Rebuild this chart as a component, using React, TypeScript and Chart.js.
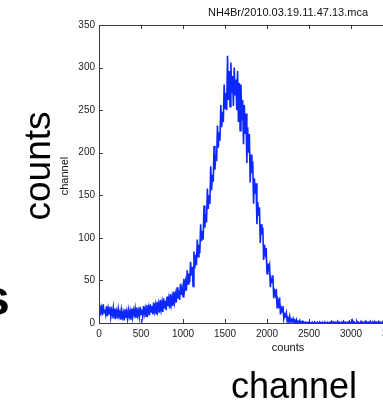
import React, { useEffect, useRef } from "react";
import { Chart, registerables } from "chart.js";

Chart.register(...registerables);

// MCA spectrum: one count value every `channelStep` channels
const channelStep = 10;
const counts = [
  // 0 - 190
  10, 21, 13, 18, 9, 22, 12, 16, 10, 20, 8, 17, 11, 19, 7, 15, 10, 18, 6, 17,
  // 200 - 390
  9, 14, 5, 16, 8, 13, 4, 15, 7, 12, 3, 16, 6, 13, 5, 15, 8, 14, 4, 17,
  // 400 - 590
  7, 15, 10, 17, 6, 18, 9, 14, 7, 19, 10, 16, 8, 20, 11, 17, 8, 21, 12, 18,
  // 600 - 790
  9, 22, 13, 20, 10, 24, 14, 21, 11, 25, 15, 22, 12, 27, 16, 24, 13, 29, 17, 26,
  // 800 - 990
  15, 31, 20, 28, 17, 34, 22, 30, 20, 37, 25, 33, 24, 42, 29, 38, 27, 46, 33, 41,
  // 1000 - 1190
  31, 52, 40, 48, 38, 62, 46, 58, 48, 72, 56, 66, 43, 84, 64, 80, 68, 98, 78, 92,
  // 1200 - 1390
  82, 116, 96, 108, 98, 138, 112, 128, 118, 158, 134, 150, 140, 184, 156, 174, 166, 208, 180, 198,
  // 1400 - 1590
  190, 232, 206, 224, 214, 256, 230, 248, 236, 280, 252, 270, 250, 314, 262, 296, 254, 306, 270, 290,
  // 1600 - 1790
  255, 300, 268, 286, 250, 296, 236, 282, 226, 280, 238, 262, 210, 256, 222, 246, 188, 230, 200, 222,
  // 1800 - 1990
  165, 198, 176, 190, 140, 170, 152, 164, 116, 142, 126, 136, 94, 116, 104, 112, 74, 92, 82, 88,
  // 2000 - 2190
  58, 70, 64, 68, 42, 52, 48, 56, 29, 37, 33, 40, 18, 26, 22, 30, 10, 17, 13, 20,
  // 2200 - 2390
  5, 10, 8, 12, 2, 6, 4, 8, 0, 4, 2, 5, 0, 3, 1, 4, 0, 2, 1, 3,
  // 2400 - 2590
  0, 1, 2, 0, 1, 0, 1, 0, 0, 1, 0, 1, 0, 0, 1, 0, 0, 1, 0, 0,
  // 2600 - 2790
  1, 0, 0, 1, 0, 0, 1, 0, 0, 1, 0, 0, 1, 0, 0, 1, 0, 2, 0, 1,
  // 2800 - 2990
  0, 1, 0, 0, 2, 0, 1, 0, 0, 1, 0, 2, 0, 1, 0, 0, 1, 0, 2, 0,
  // 3000 - 3190
  1, 0, 3, 0, 1, 0, 0, 2, 0, 1, 0, 0, 2, 0, 1, 0, 0, 2, 0, 1,
  // 3200 - 3390
  0, 1, 0, 2, 0, 0, 1, 0, 2, 0, 1, 0, 0, 2, 0, 1, 0, 0, 1, 0,
  // 3400 - 3590
  1, 0, 0, 1, 0, 1, 0, 0, 1, 0, 1, 0, 0, 1, 0, 1, 0, 0, 1, 0,
];

const plotTitle = "NH4Br/2010.03.19.11.47.13.mca";
const xAxisTitle = "counts";
const yAxisTitle = "channel";
const bigLeftLabel = "counts";
const bigBottomLabel = "channel";
const edgeLetter = "s";

const xMin = 0;
const xMax = 4500;
const xStep = 500;
const yMin = 0;
const yMax = 350;
const yStep = 50;

const FONT = "'Liberation Sans', Arial, Helvetica, sans-serif";

const framePlugin = {
  id: "frameAndLabels",
  afterDraw(chart: any) {
    const { ctx, chartArea: a, scales } = chart;
    ctx.save();
    // boxed axes
    ctx.strokeStyle = "#3c3c3c";
    ctx.lineWidth = 1;
    ctx.strokeRect(a.left + 0.5, a.top + 0.5, a.right - a.left - 1, a.bottom - a.top);
    // inward tick marks on all four sides
    ctx.beginPath();
    scales.x.ticks.forEach((t: any) => {
      const px = Math.round(scales.x.getPixelForValue(t.value)) + 0.5;
      ctx.moveTo(px, a.bottom);
      ctx.lineTo(px, a.bottom - 4);
      ctx.moveTo(px, a.top);
      ctx.lineTo(px, a.top + 4);
    });
    scales.y.ticks.forEach((t: any) => {
      const py = Math.round(scales.y.getPixelForValue(t.value)) + 0.5;
      ctx.moveTo(a.left, py);
      ctx.lineTo(a.left + 4, py);
      ctx.moveTo(a.right, py);
      ctx.lineTo(a.right - 4, py);
    });
    ctx.stroke();

    const cx = (a.left + a.right) / 2;
    const cy = (a.top + a.bottom) / 2;
    ctx.fillStyle = "#111";
    ctx.textAlign = "center";
    ctx.textBaseline = "alphabetic";
    ctx.font = `11px ${FONT}`;
    ctx.fillText(plotTitle, cx, 16);
    ctx.fillText(xAxisTitle, cx, 351);
    ctx.save();
    ctx.translate(68, cy + 2);
    ctx.rotate(-Math.PI / 2);
    ctx.fillText(yAxisTitle, 0, 0);
    ctx.restore();

    // large annotation words
    ctx.fillStyle = "#000";
    ctx.font = `37px ${FONT}`;
    ctx.save();
    ctx.translate(50, 166);
    ctx.rotate(-Math.PI / 2);
    ctx.fillText(bigLeftLabel, 0, 0);
    ctx.restore();
    ctx.textAlign = "left";
    ctx.font = `36px ${FONT}`;
    ctx.fillText(bigBottomLabel, 231, 398);
    ctx.font = `bold 50px ${FONT}`;
    ctx.fillText(edgeLetter, -18, 315);
    ctx.restore();
  },
};

export default function App() {
  const canvasRef = useRef<HTMLCanvasElement | null>(null);

  useEffect(() => {
    const canvas = canvasRef.current;
    if (!canvas) return;
    const points = counts.map((c, i) => ({ x: i * channelStep, y: c }));
    const chart = new Chart(canvas, {
      type: "line",
      data: {
        datasets: [
          {
            data: points,
            borderColor: "rgb(12,40,255)",
            borderWidth: 1.6,
            pointRadius: 0,
            tension: 0,
            fill: false,
          },
        ],
      },
      options: {
        animation: false,
        responsive: false,
        devicePixelRatio: 1,
        events: [],
        layout: { padding: { top: 25, right: 83, left: 0, bottom: 0 } },
        plugins: {
          legend: { display: false },
          tooltip: { enabled: false },
          title: { display: false },
        },
        scales: {
          x: {
            type: "linear",
            min: xMin,
            max: xMax,
            grid: { display: false, drawTicks: false },
            border: { display: false },
            ticks: {
              stepSize: xStep,
              autoSkip: false,
              maxRotation: 0,
              padding: 5,
              color: "#222",
              font: { size: 10, family: FONT },
              callback: (v: any) => String(v),
            },
            afterFit(scale: any) {
              scale.height = 79;
            },
          },
          y: {
            type: "linear",
            min: yMin,
            max: yMax,
            grid: { display: false, drawTicks: false },
            border: { display: false },
            ticks: {
              stepSize: yStep,
              padding: 4,
              color: "#222",
              font: { size: 10, family: FONT },
              callback: (v: any) => String(v),
            },
            afterFit(scale: any) {
              scale.width = 99;
            },
          },
        },
      },
      plugins: [framePlugin],
    });
    return () => chart.destroy();
  }, []);

  return (
    <div
      style={{
        position: "fixed",
        left: 0,
        top: 0,
        width: 383,
        height: 402,
        overflow: "hidden",
        background: "#fff",
      }}
    >
      <canvas ref={canvasRef} width={560} height={402} style={{ display: "block" }} />
    </div>
  );
}
